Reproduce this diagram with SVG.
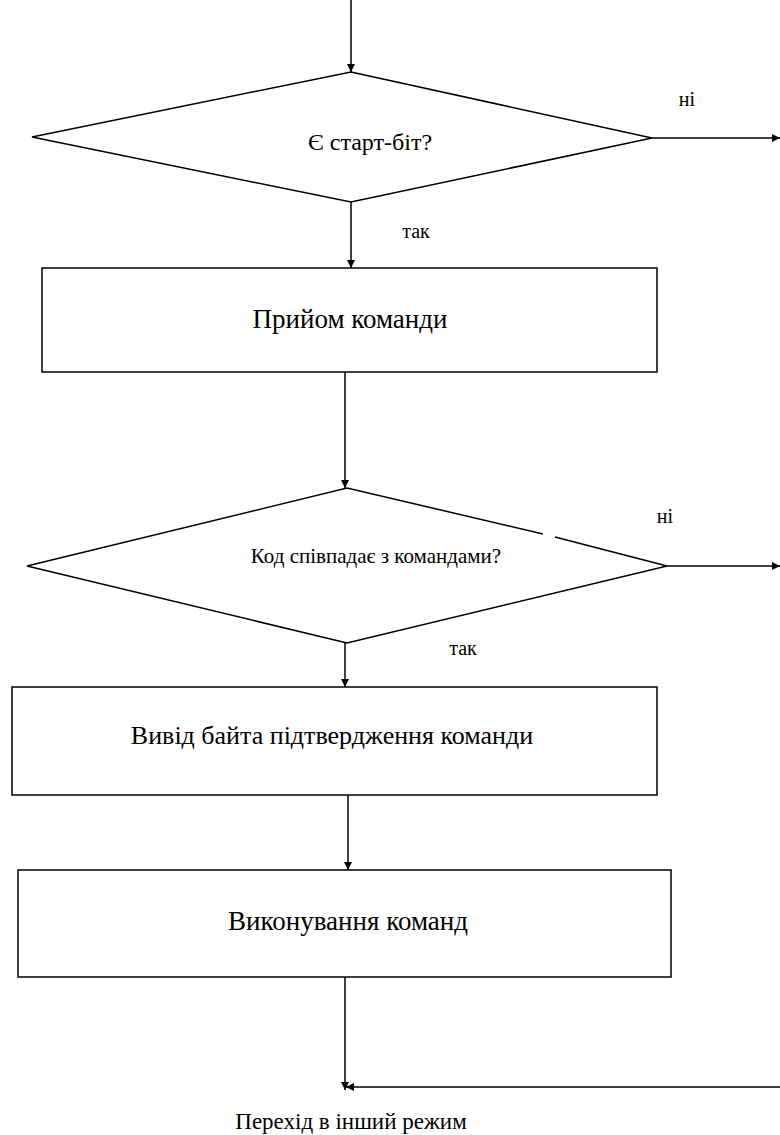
<svg xmlns="http://www.w3.org/2000/svg" width="780" height="1135" viewBox="0 0 780 1135">
  <style>
    .shape { fill: none; stroke: #000; stroke-width: 1.5; }
    .edge { fill: none; stroke: #000; stroke-width: 1.5; }
    text { font-family: "Liberation Serif", "Times New Roman", serif; fill: #000; text-anchor: middle; }
    .main { font-size: 27px; }
    .lbl { font-size: 20px; }
  </style>
  <defs>
    <marker id="arrow" viewBox="0 0 10 10" refX="10" refY="5" markerWidth="8" markerHeight="8" markerUnits="userSpaceOnUse" orient="auto">
      <path d="M0,0 L10,5 L0,10 z" fill="#000"/>
    </marker>
  </defs>
  <rect width="780" height="1135" fill="#fff"/>

  <g id="connectors">
    <line class="edge" x1="351" y1="0" x2="351" y2="72" marker-end="url(#arrow)"/>
    <line class="edge" x1="652" y1="138" x2="780" y2="138" marker-end="url(#arrow)"/>
    <line class="edge" x1="351" y1="202" x2="351" y2="268" marker-end="url(#arrow)"/>
    <line class="edge" x1="345" y1="372" x2="345" y2="488" marker-end="url(#arrow)"/>
    <line class="edge" x1="667" y1="566" x2="780" y2="566" marker-end="url(#arrow)"/>
    <line class="edge" x1="345" y1="643" x2="345" y2="687" marker-end="url(#arrow)"/>
    <line class="edge" x1="348" y1="795" x2="348" y2="870" marker-end="url(#arrow)"/>
    <line class="edge" x1="345" y1="977" x2="345" y2="1090" marker-end="url(#arrow)"/>
    <line class="edge" x1="780" y1="1087" x2="346" y2="1087" marker-end="url(#arrow)"/>
  </g>

  <g id="labels">
    <text class="lbl" x="687" y="106">ні</text>
    <text class="lbl" x="416" y="238">так</text>
    <text class="lbl" x="665" y="523">ні</text>
    <text class="lbl" x="463" y="655">так</text>
  </g>

  <g id="start-bit">
    <polygon class="shape" points="351,72 652,138 351,202 32,137"/>
    <text x="370" y="150" font-size="24">Є старт-біт?</text>
  </g>

  <g id="receive">
    <rect class="shape" x="42" y="268" width="615" height="104"/>
    <text class="main" x="350" y="328">Прийом команди</text>
  </g>

  <g id="code-match">
    <path class="shape" d="M543,534 L347,488 L27,566 L347,643 L667,566 L555,537"/>
    <text x="376" y="563" font-size="21">Код співпадає з командами?</text>
  </g>

  <g id="ack">
    <rect class="shape" x="12" y="687" width="645" height="108"/>
    <text x="332" y="744" font-size="26">Вивід байта підтвердження команди</text>
  </g>

  <g id="execute">
    <rect class="shape" x="18" y="870" width="653" height="107"/>
    <text class="main" x="348" y="930">Виконування команд</text>
  </g>

  <g id="other-mode">
    <text x="351" y="1129" font-size="23">Перехід в інший режим</text>
  </g>
</svg>
